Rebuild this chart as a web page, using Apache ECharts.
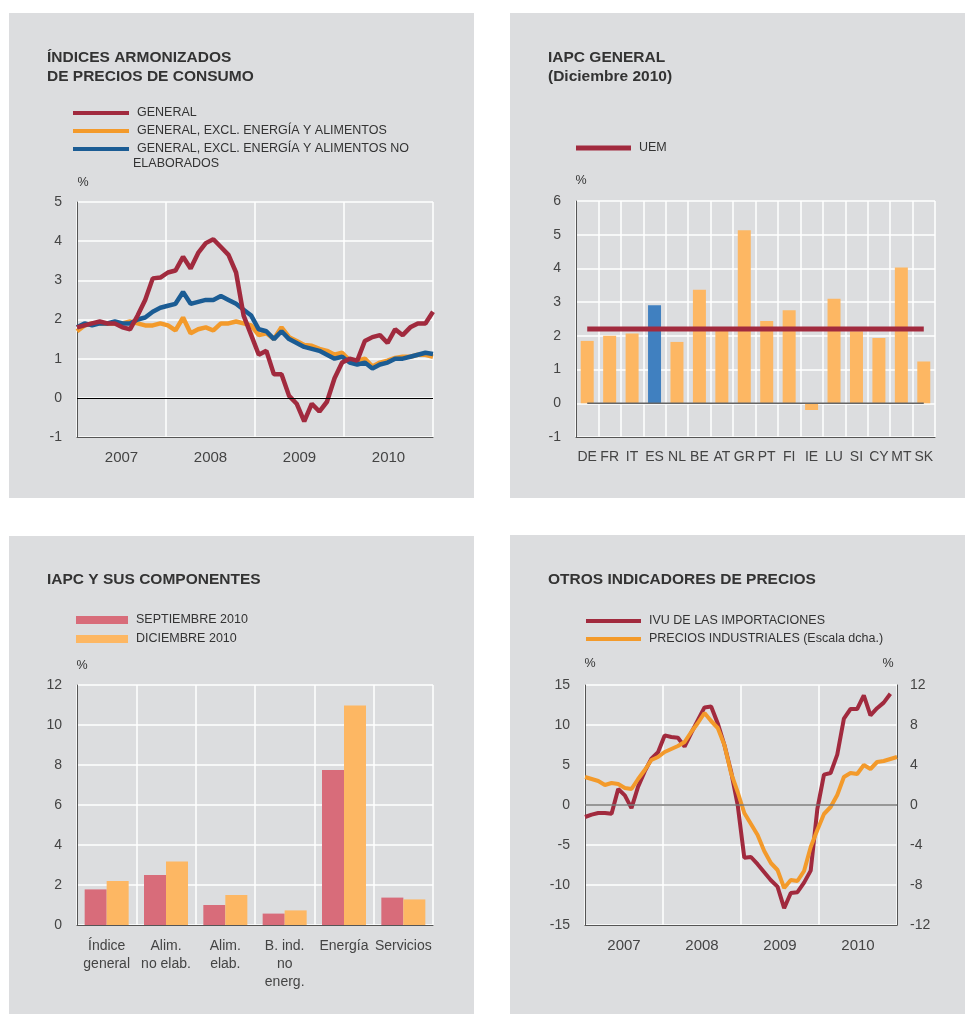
<!DOCTYPE html>
<html>
<head>
<meta charset="utf-8">
<script src="https://cdn.jsdelivr.net/npm/echarts@6/dist/echarts.min.js"></script>
<style>
  html, body { margin: 0; padding: 0; background: #fff; }
  #main { width: 965px; height: 1014px; }
</style>
</head>
<body>
<div id="main"></div>
<script>
// ---- data ----
const years = ['2007', '2008', '2009', '2010'];

// monthly, Jan 2007 .. Dec 2010
const hicpGeneral = [1.8, 1.85, 1.9, 1.95, 1.9, 1.9, 1.8, 1.75, 2.1, 2.5, 3.05, 3.07,
  3.2, 3.25, 3.6, 3.3, 3.7, 3.95, 4.05, 3.85, 3.65, 3.2, 2.1, 1.6,
  1.1, 1.2, 0.6, 0.6, 0.05, -0.15, -0.6, -0.15, -0.35, -0.1, 0.5, 0.9,
  1.0, 0.95, 1.45, 1.55, 1.6, 1.4, 1.75, 1.6, 1.8, 1.9, 1.9, 2.2];
const hicpExEnergyFood = [1.7, 1.85, 1.9, 1.9, 1.9, 1.9, 1.9, 1.95, 1.9, 1.85, 1.85, 1.9,
  1.85, 1.72, 2.05, 1.65, 1.75, 1.8, 1.72, 1.9, 1.9, 1.95, 1.9, 1.85,
  1.6, 1.65, 1.5, 1.8, 1.55, 1.45, 1.35, 1.33, 1.25, 1.2, 1.1, 1.15,
  0.95, 0.95, 1.0, 0.8, 0.9, 0.95, 1.02, 1.05, 1.05, 1.1, 1.1, 1.05];
const hicpExEnergyUnproc = [1.8, 1.9, 1.85, 1.9, 1.9, 1.95, 1.9, 1.9, 2.0, 2.05, 2.2, 2.3,
  2.35, 2.4, 2.7, 2.4, 2.45, 2.5, 2.5, 2.6, 2.5, 2.4, 2.25, 2.1,
  1.75, 1.7, 1.5, 1.7, 1.5, 1.4, 1.3, 1.25, 1.2, 1.1, 1.0, 1.05,
  0.9, 0.85, 0.9, 0.75, 0.85, 0.9, 1.0, 1.0, 1.05, 1.1, 1.15, 1.12];

const countries = ['DE', 'FR', 'IT', 'ES', 'NL', 'BE', 'AT', 'GR', 'PT', 'FI', 'IE', 'LU', 'SI', 'CY', 'MT', 'SK'];
const countryHicp = [1.85, 2.0, 2.07, 2.91, 1.82, 3.37, 2.17, 5.13, 2.44, 2.76, -0.2, 3.1, 2.14, 1.94, 4.03, 1.24];
const uemHicp = 2.2;
const highlighted = 'ES';

const components = ['Índice\ngeneral', 'Alim.\nno elab.', 'Alim.\nelab.', 'B. ind.\nno\nenerg.', 'Energía', 'Servicios'];
const sep2010 = [1.78, 2.5, 1.0, 0.57, 7.75, 1.37];
const dec2010 = [2.2, 3.17, 1.5, 0.73, 10.98, 1.28];

// monthly, Jan 2007 .. Nov 2010 / Dec 2010
const importUnitValue = [-1.5, -1.2, -1.0, -1.0, -1.1, 2.0, 1.2, -0.4, 2.3, 4.2, 5.8, 6.6,
  8.7, 8.5, 8.4, 7.3, 9.0, 10.6, 12.2, 12.3, 10.2, 7.5, 4.2, 0.0,
  -6.6, -6.5, -7.4, -8.4, -9.4, -10.2, -12.9, -11.0, -10.9, -9.7, -8.2, -0.5,
  3.8, 4.0, 6.3, 10.8, 12.0, 12.0, 13.7, 11.2, 12.1, 12.8, 13.9];
const industrialPrices = [2.8, 2.6, 2.4, 2.0, 2.2, 2.1, 1.7, 1.6, 2.6, 3.5, 4.5, 4.8,
  5.3, 5.6, 5.9, 6.3, 7.3, 8.2, 9.2, 8.4, 7.7, 6.0, 3.2, 1.3,
  -0.8, -1.9, -3.0, -4.6, -5.8, -6.5, -8.3, -7.5, -7.6, -6.6, -4.2, -2.5,
  -0.9, -0.2, 1.0, 2.8, 3.2, 3.1, 4.0, 3.6, 4.3, 4.4, 4.6, 4.8];

// ---- styling ----
const FONT = '"Liberation Sans", Arial, sans-serif';
const PANEL = '#dcdddf';
const RED = '#a12a3e';
const ORANGE = '#f39a2b';
const BLUE = '#1b5c94';
const BAR_ORANGE = '#fdb763';
const BAR_BLUE = '#4080c0';
const PINK = '#d86c7a';
const TEXT = '#333';
const AXIS_TEXT = '#444';

const gridLine = { show: true, lineStyle: { color: '#fff', width: 1.5 } };
const axisLine = { show: true, onZero: false, lineStyle: { color: '#555', width: 1 } };
const indexed = arr => arr.map((v, i) => [i, v]);

function valueY(gridIndex, min, max, interval, extra) {
  return Object.assign({
    type: 'value', gridIndex, min, max, interval,
    axisLine, axisTick: { show: false }, splitLine: gridLine,
    axisLabel: { color: AXIS_TEXT, fontSize: 14, fontFamily: FONT, margin: 15 }
  }, extra || {});
}
function catX(gridIndex, data, extra) {
  return Object.assign({
    type: 'category', gridIndex, data, boundaryGap: true,
    axisLine, axisTick: { show: false },
    splitLine: Object.assign({ interval: 0 }, gridLine),
    axisLabel: { color: AXIS_TEXT, fontSize: 15, fontFamily: FONT, margin: 13, interval: 0 }
  }, extra || {});
}
function hiddenX(gridIndex, n) {
  return { type: 'value', gridIndex, min: 0, max: n - 1, show: false };
}
function legendStyle(extra) {
  return Object.assign({
    orient: 'vertical', padding: 0, icon: 'rect', selectedMode: false,
    textStyle: { fontFamily: FONT, fontSize: 12.5, color: TEXT, lineHeight: 14, padding: [0, 0, 0, 3] }
  }, extra);
}

const N_GEN = 'GENERAL';
const N_EXF = 'GENERAL, EXCL. ENERGÍA Y ALIMENTOS';
const N_EXU = 'GENERAL, EXCL. ENERGÍA Y ALIMENTOS NO ELABORADOS';

const panels = [[9, 13, 465, 485], [510, 13, 455, 485], [9, 536, 465, 478], [510, 535, 455, 479]];
const titleText = (x, y, text) => ({
  type: 'text', z: 10, style: { x, y, text, fill: TEXT, font: 'bold 15.5px ' + FONT, textVerticalAlign: 'middle' }
});
const smallText = (x, y, text, align) => ({
  type: 'text', z: 10, style: { x, y, text, fill: TEXT, font: '12.5px ' + FONT, textVerticalAlign: 'middle', textAlign: align || 'left' }
});

const chart = echarts.init(document.getElementById('main'));

const option = {
  animation: false,
  backgroundColor: '#fff',
  textStyle: { fontFamily: FONT },
  graphic: {
    elements: panels.map(p => ({
      type: 'rect', z: -10, shape: { x: p[0], y: p[1], width: p[2], height: p[3] }, style: { fill: PANEL }
    })).concat([
      titleText(47, 58, 'ÍNDICES ARMONIZADOS'),
      titleText(47, 77, 'DE PRECIOS DE CONSUMO'),
      titleText(548, 58, 'IAPC GENERAL'),
      titleText(548, 77, '(Diciembre 2010)'),
      titleText(47, 580, 'IAPC Y SUS COMPONENTES'),
      titleText(548, 580, 'OTROS INDICADORES DE PRECIOS'),
      smallText(133, 164, 'ELABORADOS'),
      smallText(83, 183, '%', 'center'),
      smallText(581, 181, '%', 'center'),
      smallText(82, 666, '%', 'center'),
      smallText(590, 664, '%', 'center'),
      smallText(888, 664, '%', 'center')
    ])
  },
  legend: [
    legendStyle({
      left: 73, top: 106, itemGap: 4, itemWidth: 56, itemHeight: 4,
      data: [N_GEN, N_EXF, N_EXU],
      formatter: name => name === N_EXU ? 'GENERAL, EXCL. ENERGÍA Y ALIMENTOS NO' : name
    }),
    legendStyle({ left: 576, top: 141, itemWidth: 55, itemHeight: 5, data: ['UEM'] }),
    legendStyle({ left: 76, top: 613, itemGap: 5, itemWidth: 52, itemHeight: 8, data: ['SEPTIEMBRE 2010', 'DICIEMBRE 2010'] }),
    legendStyle({ left: 586, top: 614, itemGap: 4, itemWidth: 55, itemHeight: 4,
      data: ['IVU DE LAS IMPORTACIONES', 'PRECIOS INDUSTRIALES (Escala dcha.)'] })
  ],
  grid: [
    { left: 77, top: 202, width: 356, height: 235 },
    { left: 576, top: 201, width: 359, height: 236 },
    { left: 77, top: 685, width: 356, height: 240 },
    { left: 585, top: 685, width: 312, height: 240 }
  ],
  xAxis: [
    catX(0, years),
    hiddenX(0, hicpGeneral.length),
    catX(1, countries, { axisLabel: { color: AXIS_TEXT, fontSize: 14, fontFamily: FONT, margin: 13, interval: 0 } }),
    catX(2, components, { axisLabel: { color: AXIS_TEXT, fontSize: 14, fontFamily: FONT, margin: 12, interval: 0, lineHeight: 18 } }),
    catX(3, years),
    hiddenX(3, industrialPrices.length)
  ],
  yAxis: [
    valueY(0, -1, 5, 1),
    valueY(1, -1, 6, 1),
    valueY(2, 0, 12, 2),
    valueY(3, -15, 15, 5),
    valueY(3, -12, 12, 4, { position: 'right', splitLine: { show: false },
      axisLabel: { color: AXIS_TEXT, fontSize: 14, fontFamily: FONT, margin: 13 } })
  ],
  series: [
    // panel 1
    {
      name: N_EXF, type: 'line', xAxisIndex: 1, yAxisIndex: 0, data: indexed(hicpExEnergyFood),
      symbol: 'none', color: ORANGE, lineStyle: { width: 4.5, color: ORANGE },
      markLine: { silent: true, symbol: 'none', label: { show: false },
        lineStyle: { color: '#000', width: 1, type: 'solid' }, data: [{ yAxis: 0 }] }
    },
    {
      name: N_EXU, type: 'line', xAxisIndex: 1, yAxisIndex: 0, data: indexed(hicpExEnergyUnproc),
      symbol: 'none', color: BLUE, lineStyle: { width: 4.5, color: BLUE }
    },
    {
      name: N_GEN, type: 'line', xAxisIndex: 1, yAxisIndex: 0, data: indexed(hicpGeneral),
      symbol: 'none', color: RED, lineStyle: { width: 4.5, color: RED }
    },
    // panel 2
    {
      name: 'IAPC', type: 'bar', xAxisIndex: 2, yAxisIndex: 1, barWidth: 13,
      data: countryHicp.map((v, i) => ({
        value: v, itemStyle: { color: countries[i] === highlighted ? BAR_BLUE : BAR_ORANGE }
      }))
    },
    {
      name: 'cero', type: 'line', xAxisIndex: 2, yAxisIndex: 1, symbol: 'none', silent: true,
      data: countries.map(() => 0), lineStyle: { color: '#666', width: 1.5 }, z: 3
    },
    {
      name: 'UEM', type: 'line', xAxisIndex: 2, yAxisIndex: 1, symbol: 'none',
      data: countries.map(() => uemHicp), color: RED, lineStyle: { color: RED, width: 5 }, z: 4
    },
    // panel 3
    {
      name: 'SEPTIEMBRE 2010', type: 'bar', xAxisIndex: 3, yAxisIndex: 2, barWidth: 22, barGap: '0%',
      data: sep2010, color: PINK
    },
    {
      name: 'DICIEMBRE 2010', type: 'bar', xAxisIndex: 3, yAxisIndex: 2, barWidth: 22, barGap: '0%',
      data: dec2010, color: BAR_ORANGE
    },
    // panel 4
    {
      name: 'IVU DE LAS IMPORTACIONES', type: 'line', xAxisIndex: 5, yAxisIndex: 3, data: indexed(importUnitValue),
      symbol: 'none', color: RED, lineStyle: { width: 4, color: RED },
      markLine: { silent: true, symbol: 'none', label: { show: false },
        lineStyle: { color: '#777', width: 1.5, type: 'solid' }, data: [{ yAxis: 0 }] }
    },
    {
      name: 'PRECIOS INDUSTRIALES (Escala dcha.)', type: 'line', xAxisIndex: 5, yAxisIndex: 4, data: indexed(industrialPrices),
      symbol: 'none', color: ORANGE, lineStyle: { width: 4, color: ORANGE }
    }
  ]
};

chart.setOption(option);
</script>
</body>
</html>
